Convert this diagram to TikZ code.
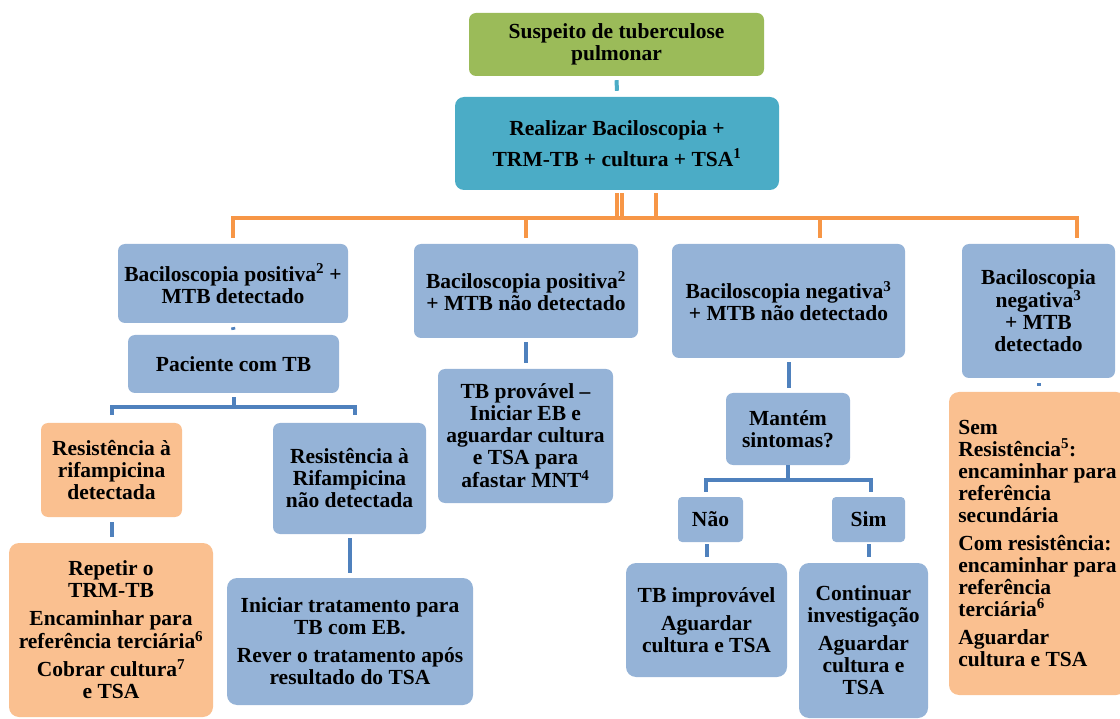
\documentclass[tikz,border=0pt]{standalone}
\usepackage{fontspec}
\setmainfont{Liberation Serif}
\usetikzlibrary{calc}
\definecolor{boxblue}{HTML}{95B3D7}
\definecolor{boxorange}{HTML}{FAC090}
\definecolor{boxgreen}{HTML}{9BBB59}
\definecolor{boxteal}{HTML}{4BACC6}
\definecolor{lineorange}{HTML}{F79646}
\definecolor{lineblue}{HTML}{4F81BD}
\tikzset{
	box/.style={rounded corners=7pt, inner sep=0pt, align=center, font=\fontsize{21.5}{22}\selectfont\bfseries},
	bluebox/.style={box, fill=boxblue},
	orangebox/.style={box, fill=boxorange},
	obus/.style={draw=lineorange, line width=3.5pt},
	bconn/.style={draw=lineblue, line width=4pt},
}
\begin{document}
\begin{tikzpicture}[x=1pt,y=-1pt]
		\clip (0,0) rectangle (1120,719);
		\node[box, fill=boxgreen, minimum width=295, minimum height=63] (susp) at (616.5,44.5) {Suspeito de tuberculose\\pulmonar};
		\node[box, fill=boxteal, rounded corners=9pt, minimum width=324, minimum height=93] (real) at (617,143.5) {Realizar Baciloscopia +\\[8pt]TRM-TB + cultura + TSA\textsuperscript{1}};
		\node[bluebox, minimum width=230, minimum height=79] (pos) at (233,283.5) {Baciloscopia positiva\textsuperscript{2} +\\MTB detectado};
		\node[bluebox, minimum width=211, minimum height=58] (pac) at (233.5,364) {Paciente com TB};
		\node[orangebox, minimum width=141, minimum height=94] (resdet) at (111.5,470) {Resistência à\\rifampicina\\detectada};
		\node[bluebox, minimum width=153, minimum height=111] (resnao) at (349.5,478.5) {Resistência à\\Rifampicina\\não detectada};
		\node[orangebox, rounded corners=10pt, minimum width=204, minimum height=174] (repetir) at (111,630) {Repetir o\\TRM-TB\\[6pt]Encaminhar para\\referência terciária\textsuperscript{6}\\[6pt]Cobrar cultura\textsuperscript{7}\\e TSA};
		\node[bluebox, rounded corners=10pt, minimum width=246, minimum height=127] (iniciar) at (350,641.5) {Iniciar tratamento para\\TB com EB.\\[6pt]Rever o tratamento após\\resultado do TSA};
		\node[bluebox, minimum width=224, minimum height=94] (posnao) at (526,291) {Baciloscopia positiva\textsuperscript{2}\\+ MTB não detectado};
		\node[bluebox, minimum width=175, minimum height=134] (provavel) at (525.5,436) {TB provável --\\Iniciar EB e\\aguardar cultura\\e TSA para\\afastar MNT\textsuperscript{4}};
		\node[bluebox, minimum width=233, minimum height=114] (negnao) at (788.5,301) {Baciloscopia negativa\textsuperscript{3}\\+ MTB não detectado};
		\node[bluebox, minimum width=124, minimum height=72] (mantem) at (788,429) {Mantém\\sintomas?};
		\node[bluebox, rounded corners=4pt, minimum width=65, minimum height=45] (nao) at (710.5,519.5) {Não};
		\node[bluebox, rounded corners=4pt, minimum width=73, minimum height=45] (sim) at (868.5,519.5) {Sim};
		\node[bluebox, rounded corners=10pt, minimum width=161, minimum height=114] (improv) at (706.5,620) {TB improvável\\[6pt]Aguardar\\cultura e TSA};
		\node[bluebox, rounded corners=10pt, minimum width=129, minimum height=155] (continuar) at (863.5,640.5) {Continuar\\investigação\\[6pt]Aguardar\\cultura e\\TSA};
		\node[bluebox, minimum width=153, minimum height=134] (negdet) at (1038.5,311) {Baciloscopia\\negativa\textsuperscript{3}\\+ MTB\\detectado};
		\node[orangebox, rounded corners=10pt, align=left, minimum width=177, minimum height=303] (semres) at (1037.5,543.5) {Sem\\Resistência\textsuperscript{5}:\\encaminhar para\\referência\\secundária\\[6pt]Com resistência:\\encaminhar para\\referência\\terciária\textsuperscript{6}\\[6pt]Aguardar\\cultura e TSA};
		\draw[draw=boxteal, line width=4pt] ($(susp.south)+(0,4)$) -- ($(real.north)+(0,-6)$);
		\draw[obus] ($(real.south)+(0,3)$) -- ($(real.south)+(0,28)$);
		\draw[obus] ($(real.south)+(5,3)$) -- ($(real.south)+(5,28)$);
		\draw[obus] ($(real.south)+(39,3)$) -- ($(real.south)+(39,28)$);
		\draw[obus] ($(pos.north)+(0,-6)$) |- ($(negdet.north)+(38.5,-26)$) -- ($(negdet.north)+(38.5,-6)$);
		\draw[obus] ($(posnao.north)+(0,-6)$) -- ($(posnao.north)+(0,-26)$);
		\draw[obus] ($(negnao.north)+(31.5,-6)$) -- ($(negnao.north)+(31.5,-26)$);
		\draw[bconn] ($(pos.south)+(0,4)$) -- ($(pac.north)+(0,-5)$);
		\draw[bconn] ($(pac.south)+(0,4)$) -- ($(pac.south)+(0,14)$) coordinate (pacbar);
		\draw[bconn] ($(resdet.north)+(0.5,-8)$) |- (pacbar) -| ($(resnao.north)+(5.5,-8)$);
		\draw[bconn] ($(resdet.south)+(0.5,5)$) -- ($(repetir.north)+(1,-6)$);
		\draw[bconn] ($(resnao.south)+(0,4)$) -- ($(iniciar.north)+(-0.5,-5)$);
		\draw[bconn] ($(posnao.south)+(0,4)$) -- ($(provavel.north)+(0.5,-6)$);
		\draw[bconn] ($(negnao.south)+(0,4)$) -- ($(mantem.north)+(0.5,-5)$);
		\draw[bconn] (mantem.south) -- ($(mantem.south)+(0,15)$) coordinate (mantbar);
		\draw[bconn] ($(nao.north)+(-4.5,-5)$) |- (mantbar) -| ($(sim.north)+(2.5,-5)$);
		\draw[bconn] ($(nao.south)+(-3.5,2)$) -- ($(improv.north)+(0.5,-6)$);
		\draw[bconn] ($(sim.south)+(0,2)$) -- ($(continuar.north)+(5,-6)$);
		\draw[bconn] ($(negdet.south)+(0,5)$) -- ($(semres.north)+(1,-6)$);
	\end{tikzpicture}
\end{document}
